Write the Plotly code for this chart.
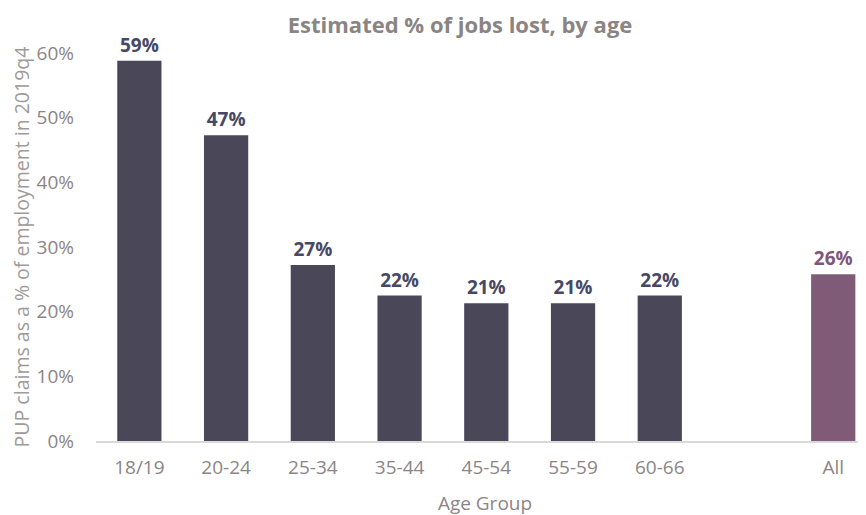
import plotly.graph_objects as go

categories = ["18/19", "20-24", "25-34", "35-44", "45-54", "55-59", "60-66", "All"]
positions = [0, 1, 2, 3, 4, 5, 6, 8]
values = [0.588, 0.473, 0.272, 0.225, 0.213, 0.213, 0.225, 0.258]
labels = ["59%", "47%", "27%", "22%", "21%", "21%", "22%", "26%"]
bar_colors = ["#4a4858"] * 7 + ["#7f5b78"]
label_colors = ["#474866"] * 7 + ["#7f5679"]

FONT = "Open Sans, sans-serif"

fig = go.Figure()
fig.add_trace(go.Bar(
    x=positions, y=values, width=0.51,
    marker=dict(color=bar_colors, line=dict(width=0)),
    text=labels, textposition="outside", cliponaxis=False,
    textfont=dict(family=FONT, size=19, color=label_colors),
))
fig.update_traces(textfont_weight="bold")

fig.update_layout(
    width=866, height=515,
    margin=dict(l=88, r=0, t=45, b=82),
    paper_bgcolor="white", plot_bgcolor="white",
    showlegend=False,
    title=dict(text="<b>Estimated % of jobs lost, by age</b>", x=0.522, xanchor="center",
               y=0.967, yanchor="middle",
               font=dict(family=FONT, size=22, color="#8a8482")),
    font=dict(family=FONT, color="#8c8585"),
    bargap=0.4,
)
fig.update_xaxes(
    tickmode="array", tickvals=positions, ticktext=categories,
    range=[-0.5, 8.47], showgrid=False, zeroline=False,
    showline=True, linecolor="#d9d9d9", linewidth=1.5,
    ticks="", tickfont=dict(size=19, color="#8c8585"), automargin=False,
    ticklabelstandoff=8,
    title=dict(text="Age Group", font=dict(size=19, color="#8c8585"), standoff=18),
)
fig.update_yaxes(
    range=[0, 0.6], tickvals=[0, 0.1, 0.2, 0.3, 0.4, 0.5, 0.6],
    tickformat=".0%", showgrid=False, zeroline=False, showline=False,
    ticks="", tickfont=dict(size=19, color="#8c8585"), ticklabelstandoff=21,
    automargin=False,
    title=dict(text="PUP claims as a % of employment in 2019q4",
               font=dict(size=19.5, color="#a09a98"), standoff=4),
)

fig.write_html("out.html")
